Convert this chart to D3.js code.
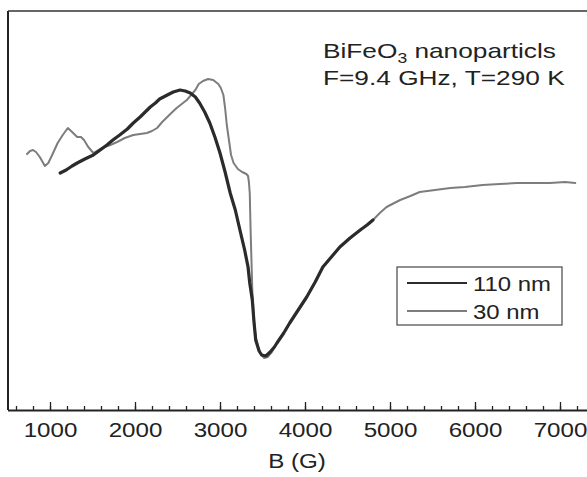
<!DOCTYPE html>
<html>
<head>
<meta charset="utf-8">
<script src="https://cdn.jsdelivr.net/npm/d3@7"></script>
<style>
  body { margin: 0; background: #fff; }
  svg { display: block; font-family: "Liberation Sans", Arial, sans-serif; }
</style>
</head>
<body>
<div id="chart"></div>
<script>
// magnetic field, G
const fieldTicks = [1000, 2000, 3000, 4000, 5000, 6000, 7000];

// 30 nm sample (arb. units)
const field30 = [730, 765, 800, 835, 880, 920, 940, 980, 1020, 1090, 1150, 1210, 1260, 1320, 1365, 1400,
  1450, 1510, 1550, 1610, 1710, 1790, 1880, 1980, 2060, 2140, 2200, 2260, 2320, 2380, 2440, 2490,
  2550, 2610, 2660, 2710, 2750, 2800, 2860, 2920, 2980, 3010, 3040, 3060, 3080, 3110, 3130, 3160,
  3210, 3260, 3310, 3330, 3340, 3350, 3360, 3370, 3380, 3400, 3420, 3450, 3480, 3520, 3560, 3610,
  3670, 3750, 3820, 3920, 4020, 4120, 4210, 4320, 4410, 4530, 4650, 4730, 4800, 4880, 4960, 5050,
  5120, 5240, 5350, 5530, 5710, 5880, 6090, 6290, 6490, 6710, 6880, 7060, 7180];
const signal30 = [27, 30, 31, 29, 24, 18, 15, 18, 25, 38, 46, 53, 49, 44, 44, 41,
  34, 28, 30, 33, 36, 39, 43, 46, 47, 48, 50, 53, 59, 64, 69, 73,
  77, 81, 86, 91, 97, 100, 102, 101, 97, 93, 86, 73, 56, 38, 26, 18,
  12, 9, 7, 5, -1, -12, -49, -79, -109, -139, -156, -166, -173, -177, -176, -171,
  -162, -152, -142, -129, -116, -101, -86, -75, -66, -57, -49, -44, -39, -32, -26, -22,
  -19, -15, -11, -9, -7, -6, -4, -3, -2, -2, -2, -1, -2];

// 110 nm sample (arb. units)
const field110 = [1120, 1190, 1260, 1320, 1410, 1510, 1590, 1670, 1740, 1820, 1910, 1980, 2060, 2120,
  2180, 2240, 2290, 2380, 2450, 2530, 2590, 2650, 2710, 2760, 2820, 2880, 2940, 3000, 3060, 3120,
  3180, 3240, 3290, 3330, 3350, 3380, 3400, 3420, 3460, 3490, 3540, 3590, 3640, 3670, 3750, 3820,
  3920, 4020, 4120, 4210, 4320, 4410, 4530, 4650, 4730, 4800];
const signal110 = [8, 11, 15, 18, 22, 26, 31, 36, 41, 46, 52, 58, 64, 69,
  74, 78, 82, 86, 89, 91, 90, 88, 84, 78, 69, 58, 44, 28, 9, -12,
  -29, -51, -69, -86, -102, -119, -141, -159, -170, -174, -175, -171, -166, -162, -152, -142,
  -129, -116, -101, -86, -75, -66, -57, -49, -44, -39];

const width = 587;
const height = 477;
const axisY = 410;
const topY = 11;
const leftX = 8;
const stretch = 1.15;

const svg = d3.select("#chart")
  .append("svg")
  .attr("width", width)
  .attr("height", height);

const x = d3.scaleLinear().domain([500, 7500]).range([7.5, 602.5]);
const y = d3.scaleLinear().domain([-229, 169]).range([axisY, 12]);

const line = d3.line()
  .x(d => x(d[0]))
  .y(d => y(d[1]));

const series = [
  { name: "30 nm", field: field30, signal: signal30, color: "#7d7d7d", w: 2 },
  { name: "110 nm", field: field110, signal: signal110, color: "#2b2b2b", w: 3.2 }
];

series.forEach(s => {
  svg.append("path")
    .datum(s.field.map((b, i) => [b, s.signal[i]]))
    .attr("fill", "none")
    .attr("stroke", s.color)
    .attr("stroke-width", s.w)
    .attr("stroke-linejoin", "round")
    .attr("stroke-linecap", "round")
    .attr("d", line);
});

// frame: left and top lines
svg.append("line")
  .attr("x1", leftX).attr("x2", leftX)
  .attr("y1", topY).attr("y2", axisY)
  .attr("stroke", "#222").attr("stroke-width", 2);
svg.append("line")
  .attr("x1", leftX).attr("x2", width)
  .attr("y1", topY).attr("y2", topY)
  .attr("stroke", "#333").attr("stroke-width", 1.5);

// minor ticks every 200 G
svg.append("g")
  .attr("transform", `translate(0,${axisY})`)
  .call(d3.axisBottom(x).tickValues(d3.range(600, 7600, 200)).tickSize(-4).tickFormat(""))
  .call(g => g.select(".domain").remove())
  .call(g => g.selectAll("line").attr("stroke", "#222").attr("stroke-width", 1.3));

const xAxis = svg.append("g")
  .attr("transform", `translate(0,${axisY})`)
  .call(d3.axisBottom(x).tickValues(fieldTicks).tickFormat(d3.format("d"))
    .tickSizeInner(-8).tickSizeOuter(0).tickPadding(12));

xAxis.select(".domain").attr("stroke", "#222").attr("stroke-width", 2);
xAxis.selectAll(".tick line").attr("stroke", "#222").attr("stroke-width", 1.3);
xAxis.selectAll("text")
  .attr("font-size", "21px")
  .attr("font-family", "Liberation Sans, Arial, sans-serif")
  .attr("fill", "#222")
  .attr("transform", `scale(${stretch},1)`);

// x axis label
svg.append("text")
  .attr("transform", `translate(297,468) scale(${stretch},1)`)
  .attr("text-anchor", "middle")
  .attr("font-size", "21px")
  .attr("fill", "#222")
  .text("B (G)");

// annotation
const note = svg.append("g")
  .attr("transform", `translate(323,0) scale(1.25,1)`)
  .attr("font-size", "21px")
  .attr("fill", "#222");

const t1 = note.append("text").attr("y", 58);
t1.append("tspan").text("BiFeO");
t1.append("tspan").attr("font-size", "14px").attr("dy", 5).text("3");
t1.append("tspan").attr("dy", -5).text(" nanoparticls");

note.append("text").attr("y", 85).text("F=9.4 GHz, T=290 K");

// legend
const legend = svg.append("g");
legend.append("rect")
  .attr("x", 397).attr("y", 267)
  .attr("width", 165).attr("height", 58)
  .attr("fill", "#fff")
  .attr("stroke", "#555")
  .attr("stroke-width", 1.3);

[series[1], series[0]].forEach((s, i) => {
  const ly = 283 + i * 28;
  legend.append("line")
    .attr("x1", 407).attr("x2", 467)
    .attr("y1", ly).attr("y2", ly)
    .attr("stroke", s.color)
    .attr("stroke-width", 2);
  legend.append("text")
    .attr("transform", `translate(473,${ly + 8}) scale(1.14,1)`)
    .attr("font-size", "21px")
    .attr("fill", "#222")
    .text(s.name);
});
</script>
</body>
</html>
